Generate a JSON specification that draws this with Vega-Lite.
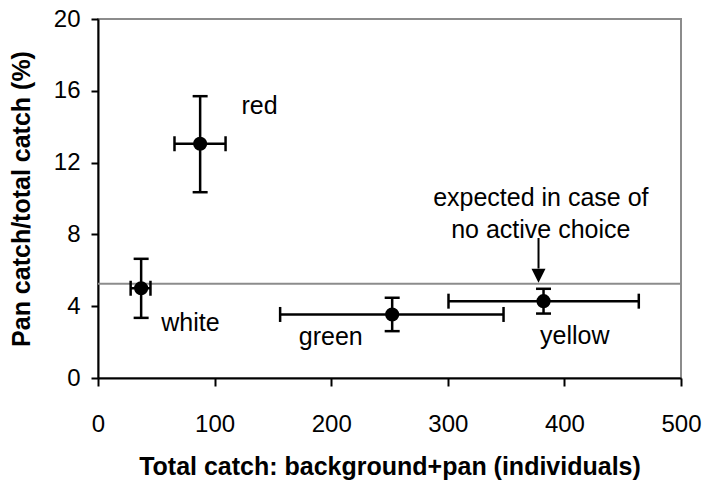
{
  "$schema": "https://vega.github.io/schema/vega-lite/v6.json",
  "width": 583,
  "height": 359,
  "autosize": {"type": "none"},
  "padding": {"left": 98, "top": 19, "right": 22, "bottom": 102},
  "background": "white",
  "config": {
    "view": {"stroke": "#8c8c8c", "strokeWidth": 2},
    "font": "Liberation Sans",
    "axis": {
      "grid": false,
      "domainColor": "black",
      "domainWidth": 2,
      "tickColor": "black",
      "tickWidth": 2,
      "labelColor": "black",
      "labelFont": "Liberation Sans",
      "labelFontSize": 24,
      "labelFlush": false,
      "labelOverlap": false,
      "titleFont": "Liberation Sans",
      "titleFontSize": 25,
      "titleFontWeight": "bold",
      "titleColor": "black"
    }
  },
  "datasets": {
    "pts": [
      {"colour": "red", "x": 87.6, "y": 13.05, "xlo": 65.6, "xhi": 109.4, "ylo": 10.35, "yhi": 15.7},
      {"colour": "white", "x": 37.0, "y": 5.0, "xlo": 28.0, "xhi": 45.0, "ylo": 3.35, "yhi": 6.64},
      {"colour": "green", "x": 252.3, "y": 3.54, "xlo": 156.2, "xhi": 347.8, "ylo": 2.61, "yhi": 4.47},
      {"colour": "yellow", "x": 382.1, "y": 4.28, "xlo": 300.6, "xhi": 463.8, "ylo": 3.59, "yhi": 4.97}
    ],
    "labels": [
      {"text": "red", "x": 123, "y": 14.72},
      {"text": "white", "x": 54.2, "y": 2.61},
      {"text": "green", "x": 172.2, "y": 1.83},
      {"text": "yellow", "x": 379.1, "y": 1.87}
    ],
    "note": [
      {"text": "expected in case of", "x": 379.8, "y": 9.6},
      {"text": "no active choice", "x": 379.8, "y": 7.81}
    ],
    "arrow": [
      {"x": 377.8, "y": 7.8, "tip": 5.3, "base": 6.1}
    ],
    "expected": [
      {"level": 5.25}
    ]
  },
  "layer": [
    {
      "data": {"name": "expected"},
      "mark": {"type": "rule", "color": "#8c8c8c", "strokeWidth": 2},
      "encoding": {"y": {"field": "level", "type": "quantitative", "title": "Pan catch/total catch (%)"}}
    },
    {
      "data": {"name": "pts"},
      "mark": {"type": "rule", "color": "black", "strokeWidth": 2.5},
      "encoding": {
        "x": {"field": "xlo", "type": "quantitative", "title": "Total catch: background+pan (individuals)"},
        "x2": {"field": "xhi"},
        "y": {"field": "y", "type": "quantitative", "title": "Pan catch/total catch (%)"}
      }
    },
    {
      "data": {"name": "pts"},
      "mark": {"type": "rule", "color": "black", "strokeWidth": 2.5},
      "encoding": {
        "x": {"field": "x", "type": "quantitative", "title": "Total catch: background+pan (individuals)"},
        "y": {"field": "ylo", "type": "quantitative", "title": "Pan catch/total catch (%)"},
        "y2": {"field": "yhi"}
      }
    },
    {
      "data": {"name": "pts"},
      "mark": {"type": "tick", "color": "black", "orient": "horizontal", "size": 15, "thickness": 2.5, "opacity": 1},
      "encoding": {
        "x": {"field": "x", "type": "quantitative", "title": "Total catch: background+pan (individuals)"},
        "y": {"field": "ylo", "type": "quantitative", "title": "Pan catch/total catch (%)"}
      }
    },
    {
      "data": {"name": "pts"},
      "mark": {"type": "tick", "color": "black", "orient": "horizontal", "size": 15, "thickness": 2.5, "opacity": 1},
      "encoding": {
        "x": {"field": "x", "type": "quantitative", "title": "Total catch: background+pan (individuals)"},
        "y": {"field": "yhi", "type": "quantitative", "title": "Pan catch/total catch (%)"}
      }
    },
    {
      "data": {"name": "pts"},
      "mark": {"type": "tick", "color": "black", "orient": "vertical", "size": 15, "thickness": 2.5, "opacity": 1},
      "encoding": {
        "x": {"field": "xlo", "type": "quantitative", "title": "Total catch: background+pan (individuals)"},
        "y": {"field": "y", "type": "quantitative", "title": "Pan catch/total catch (%)"}
      }
    },
    {
      "data": {"name": "pts"},
      "mark": {"type": "tick", "color": "black", "orient": "vertical", "size": 15, "thickness": 2.5, "opacity": 1},
      "encoding": {
        "x": {"field": "xhi", "type": "quantitative", "title": "Total catch: background+pan (individuals)"},
        "y": {"field": "y", "type": "quantitative", "title": "Pan catch/total catch (%)"}
      }
    },
    {
      "data": {"name": "pts"},
      "mark": {"type": "point", "shape": "circle", "filled": true, "color": "black", "size": 200, "opacity": 1},
      "encoding": {
        "x": {
          "field": "x", "type": "quantitative",
          "scale": {"domain": [0, 500], "nice": false},
          "axis": {"values": [0, 100, 200, 300, 400, 500], "tickSize": 8, "labelPadding": 26, "titlePadding": 18},
          "title": "Total catch: background+pan (individuals)"
        },
        "y": {
          "field": "y", "type": "quantitative",
          "scale": {"domain": [0, 20], "nice": false},
          "axis": {"values": [0, 4, 8, 12, 16, 20], "tickSize": 7, "labelPadding": 11, "titlePadding": 19},
          "title": "Pan catch/total catch (%)"
        }
      }
    },
    {
      "data": {"name": "labels"},
      "mark": {"type": "text", "align": "left", "baseline": "alphabetic", "fontSize": 25, "font": "Liberation Sans", "color": "black"},
      "encoding": {
        "x": {"field": "x", "type": "quantitative", "title": "Total catch: background+pan (individuals)"},
        "y": {"field": "y", "type": "quantitative", "title": "Pan catch/total catch (%)"},
        "text": {"field": "text"}
      }
    },
    {
      "data": {"name": "note"},
      "mark": {"type": "text", "align": "center", "baseline": "alphabetic", "fontSize": 25, "font": "Liberation Sans", "color": "black"},
      "encoding": {
        "x": {"field": "x", "type": "quantitative", "title": "Total catch: background+pan (individuals)"},
        "y": {"field": "y", "type": "quantitative", "title": "Pan catch/total catch (%)"},
        "text": {"field": "text"}
      }
    },
    {
      "data": {"name": "arrow"},
      "mark": {"type": "rule", "color": "black", "strokeWidth": 2},
      "encoding": {
        "x": {"field": "x", "type": "quantitative", "title": "Total catch: background+pan (individuals)"},
        "y": {"field": "y", "type": "quantitative", "title": "Pan catch/total catch (%)"},
        "y2": {"field": "base"}
      }
    },
    {
      "data": {"name": "arrow"},
      "mark": {"type": "point", "shape": "M-1,-2L1,-2L0,0Z", "filled": true, "color": "black", "size": 196, "opacity": 1},
      "encoding": {
        "x": {"field": "x", "type": "quantitative", "title": "Total catch: background+pan (individuals)"},
        "y": {"field": "tip", "type": "quantitative", "title": "Pan catch/total catch (%)"}
      }
    }
  ]
}
